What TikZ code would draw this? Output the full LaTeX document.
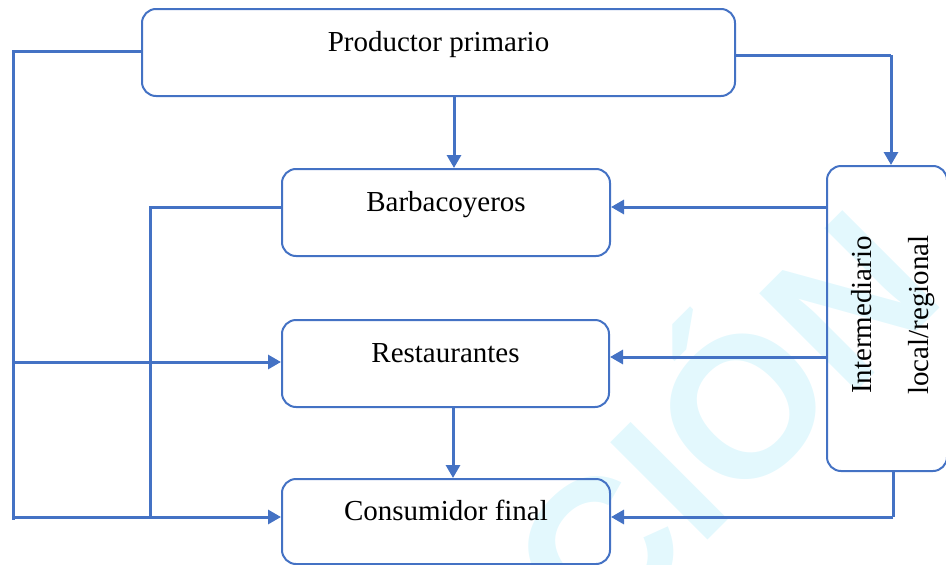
\documentclass[tikz,border=0pt]{standalone}
\usepackage{fontspec}
\setmainfont{Liberation Serif}
\newfontfamily\wmfont{Liberation Sans}
\usetikzlibrary{arrows.meta}
\definecolor{lineblue}{HTML}{4472C4}
\definecolor{wmcyan}{HTML}{E3F8FD}
\begin{document}
\begin{tikzpicture}[x=1pt,y=-1pt,
  box/.style={draw=lineblue, line width=2pt, rounded corners=14pt, inner sep=0pt},
  conn/.style={draw=lineblue, line width=3pt},
  arr/.style={conn, -{Triangle[length=13pt,width=14pt]}},
  boxtext/.style={font=\fontsize{29}{34}\selectfont, text height=20pt, text depth=6pt, yshift=8.5pt}
]
\useasboundingbox (0,0) rectangle (946,565);
% watermark
\begin{scope}
\clip (0,0) rectangle (946,565);
\node[rotate=45, anchor=base west, text=wmcyan, inner sep=0pt,
  font=\wmfont\bfseries\fontsize{200}{200}\selectfont] (wm) at (596,652) {CIÓN};
\end{scope}
% boxes
\node[box, minimum width=593pt, minimum height=87pt,
  label={[boxtext]center:Productor primario}] (prod) at (438.5,52.5) {};
\node[box, minimum width=328pt, minimum height=87pt,
  label={[boxtext]center:Barbacoyeros}] (barb) at (446,212.5) {};
\node[box, minimum width=327pt, minimum height=87pt,
  label={[boxtext]center:Restaurantes}] (rest) at (445.5,363.5) {};
\node[box, minimum width=328pt, minimum height=85pt,
  label={[boxtext]center:Consumidor final}] (cons) at (446,521.5) {};
\node[box, minimum width=120pt, minimum height=305pt] (imed) at (887,318.5) {};
\node[rotate=90, align=center, inner sep=0pt,
  font=\fontsize{29}{57}\selectfont] (imedt) at (893.5,315) {Intermediario\\local/regional};
% helper coordinates
\coordinate (ltrunk) at (13,520);
\coordinate (mtrunk) at (150,517);
\coordinate (rturn) at (891,55);
\coordinate (bturn) at (893,517);
% connectors
\draw[conn] ([yshift=1.5pt]prod.west) -| (ltrunk);
\draw[arr] (ltrunk |- 0,362) -- (rest.west |- 0,362);
\draw[arr] (ltrunk |- mtrunk) -- (cons.west |- mtrunk);
\draw[conn] ([yshift=5.5pt]barb.west) -| (mtrunk);
\draw[arr] (prod.south -| 454,0) -- (barb.north -| 454,0);
\draw[conn] ([yshift=-2.5pt]prod.east) -- (rturn);
\draw[arr] (rturn) -- (imed.north -| rturn);
\draw[arr] (imed.west |- 0,207) -- (barb.east |- 0,207);
\draw[arr] (imed.west |- 0,357) -- (rest.east |- 0,357);
\draw[conn] (imed.south -| bturn) -- (bturn);
\draw[arr] (bturn) -- (cons.east |- bturn);
\draw[arr] (rest.south -| 453,0) -- (cons.north -| 453,0);
\end{tikzpicture}
\end{document}
